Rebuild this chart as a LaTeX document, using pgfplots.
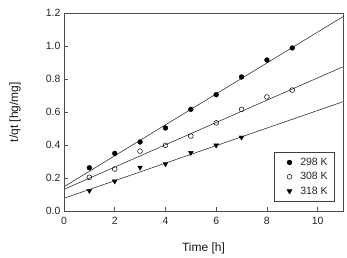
\documentclass[border=0pt]{standalone}
\usepackage{pgfplots}
\pgfplotsset{compat=1.18}
\usepackage{fontspec}
\setmainfont{Liberation Sans}
\begin{document}
\begin{tikzpicture}
\begin{axis}[
  name=ax,
  scale only axis,
  width=279pt, height=198pt,
  xmin=0, xmax=11, ymin=0, ymax=1.2,
  xtick={0,2,4,6,8,10},
  ytick={0,0.2,0.4,0.6,0.8,1.0,1.2},
  yticklabel style={/pgf/number format/.cd,fixed,fixed zerofill,precision=1},
  /pgf/number format/assume math mode=true,
  tick align=inside,
  xtick pos=left, ytick pos=left,
  major tick length=4pt,
  tick style={black!70, line width=0.5pt},
  axis line style={black!70, line width=0.6pt},
  ticklabel style={font=\fontsize{10.5}{12}\selectfont, text=black!85},
  xticklabel style={yshift=-2pt},
  xlabel={Time [h]}, ylabel={t/qt [hg/mg]},
  label style={font=\fontsize{12}{14}\selectfont, text=black!90},
  xlabel style={at={(axis description cs:0.5,0)}, anchor=center, yshift=-37pt},
  ylabel style={at={(axis description cs:0,0.5)}, anchor=center, yshift=49pt},
  legend style={at={(axis description cs:1,0)}, anchor=south east, xshift=-9pt, yshift=9.5pt,
    draw=black!75, line width=0.5pt, font=\fontsize{10.5}{12}\selectfont,
    row sep=1.5pt, inner xsep=4pt, inner ysep=4pt, text=black!85},
  legend cell align=left,
  legend image code/.code={\path (-0.2cm,0cm) (0.5cm,0cm); \draw[#1] plot coordinates {(0.2cm,0cm)};},
]
\addplot[only marks, mark=*, mark size=2.4pt, black] coordinates {
 (1,0.264) (2,0.351) (3,0.420) (4,0.505) (5,0.618) (6,0.707) (7,0.814) (8,0.917) (9,0.990)};
\addlegendentry{298 K}
\addplot[only marks, mark=o, mark size=2.4pt, black, mark options={line width=0.5pt}] coordinates {
 (1,0.206) (2,0.256) (3,0.365) (4,0.400) (5,0.456) (6,0.536) (7,0.618) (8,0.693) (9,0.735)};
\addlegendentry{308 K}
\addplot[only marks, mark=triangle*, mark size=2.8pt, black, mark options={rotate=180}] coordinates {
 (1,0.125) (2,0.182) (3,0.266) (4,0.287) (5,0.355) (6,0.400) (7,0.448)};
\addlegendentry{318 K}
\addplot[black!80, line width=0.6pt, forget plot] coordinates {(0,0.149) (11,1.180)};
\addplot[black!80, line width=0.6pt, forget plot] coordinates {(0,0.133) (11,0.876)};
\addplot[black!80, line width=0.6pt, forget plot] coordinates {(0,0.079) (11,0.664)};
\end{axis}
\path (ax.south west) ++(-64pt,-44.7pt);
\path (ax.north east) ++(4pt,13.3pt);
\end{tikzpicture}
\end{document}
